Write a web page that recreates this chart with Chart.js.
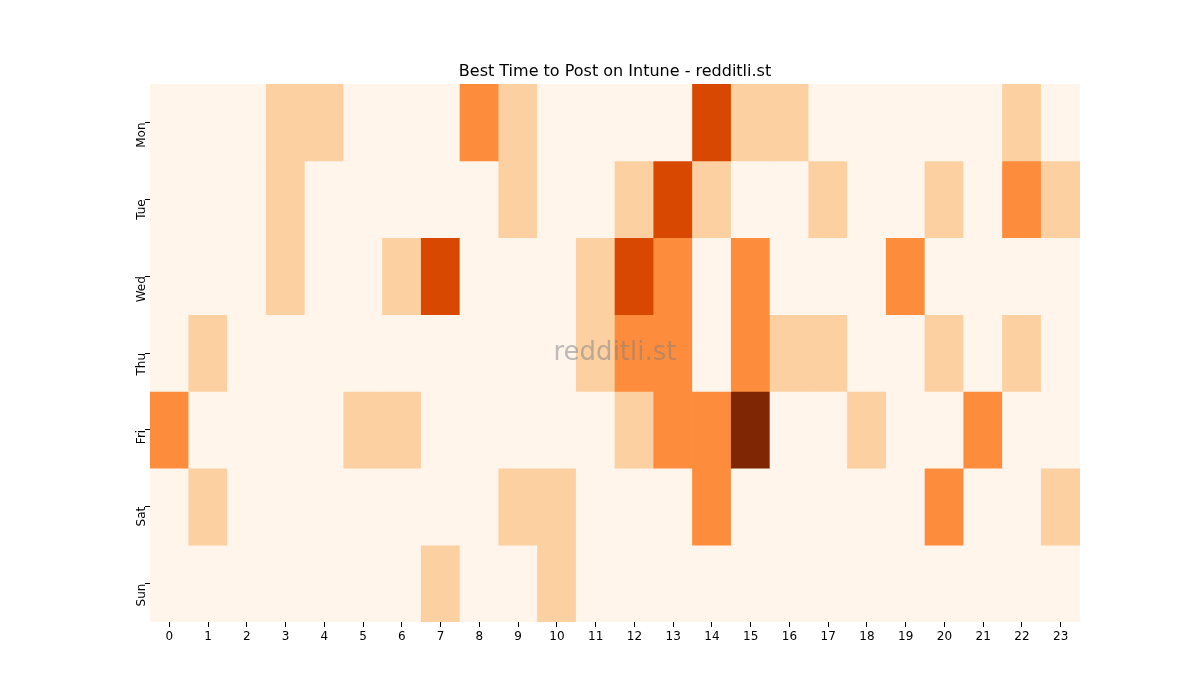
<!DOCTYPE html>
<html><head><meta charset="utf-8">
<script src="https://cdn.jsdelivr.net/npm/chart.js@4"></script>
<style>body{margin:0;background:#fff}#w{width:1200px;height:700px}</style>
</head><body><div id="w"><canvas id="c"></canvas></div>
<script>
const hours = Array.from({length:24},(_,i)=>String(i));
const days = ["Mon","Tue","Wed","Thu","Fri","Sat","Sun"];
const Mon = [0,0,0,1,1,0,0,0,2,1,0,0,0,0,3,1,1,0,0,0,0,0,1,0];
const Tue = [0,0,0,1,0,0,0,0,0,1,0,0,1,3,1,0,0,1,0,0,1,0,2,1];
const Wed = [0,0,0,1,0,0,1,3,0,0,0,1,3,2,0,2,0,0,0,2,0,0,0,0];
const Thu = [0,1,0,0,0,0,0,0,0,0,0,1,2,2,0,2,1,1,0,0,1,0,1,0];
const Fri = [2,0,0,0,0,1,1,0,0,0,0,0,1,2,2,4,0,0,1,0,0,2,0,0];
const Sat = [0,1,0,0,0,0,0,0,0,1,1,0,0,0,2,0,0,0,0,0,2,0,0,1];
const Sun = [0,0,0,0,0,0,0,1,0,0,1,0,0,0,0,0,0,0,0,0,0,0,0,0];
const grid = [Mon,Tue,Wed,Thu,Fri,Sat,Sun];
const palette = ["#fff5eb","#fdd0a2","#fd8d3c","#d94801","#7f2704"];

const datasets = grid.map((row,i)=>({
  label: days[i],
  data: row.map(()=>1),
  backgroundColor: row.map(v=>palette[v]),
  borderWidth: 0,
  barPercentage: 1, categoryPercentage: 1
}));

const overlay = {
  id:'overlay',
  afterDraw(chart){
    const ctx=chart.ctx, a=chart.chartArea;
    ctx.save();
    ctx.fillStyle='#000';ctx.font='16px "DejaVu Sans"';ctx.textAlign='center';ctx.textBaseline='bottom';
    ctx.fillText('Best Time to Post on Intune - redditli.st',(a.left+a.right)/2,a.top-4);
    ctx.fillStyle='rgba(128,128,128,0.5)';ctx.font='26px "DejaVu Sans"';ctx.textBaseline='middle';
    ctx.fillText('redditli.st',(a.left+a.right)/2,(a.top+a.bottom)/2);
    ctx.restore();
  }
};

new Chart(document.getElementById('c'),{
  type:'bar',
  data:{labels:hours,datasets},
  options:{
    responsive:true,maintainAspectRatio:false,animation:false,
    layout:{padding:{left:120,right:120,top:84,bottom:38}},
    plugins:{legend:{display:false},tooltip:{enabled:false}},
    scales:{
      x:{stacked:true,
         grid:{display:true,drawOnChartArea:false,offset:false,tickLength:5,color:'#000'},
         border:{display:false},
         ticks:{color:'#000',font:{size:12,family:'DejaVu Sans'},maxRotation:0,autoSkip:false},
         afterFit(s){s.height=40;}},
      y:{stacked:true,min:0,max:7,reverse:true,
         grid:{display:true,drawOnChartArea:false,tickLength:5,color:'#000'},
         border:{display:false},
         afterBuildTicks(s){s.ticks=days.map((d,i)=>({value:i+0.5}));},
         ticks:{color:'#000',font:{size:12,family:'DejaVu Sans'},minRotation:90,maxRotation:90,
           callback:(v)=>days[Math.floor(v)]},
         afterFit(s){s.width=30;}}
    }
  },
  plugins:[overlay]
});
</script></body></html>
